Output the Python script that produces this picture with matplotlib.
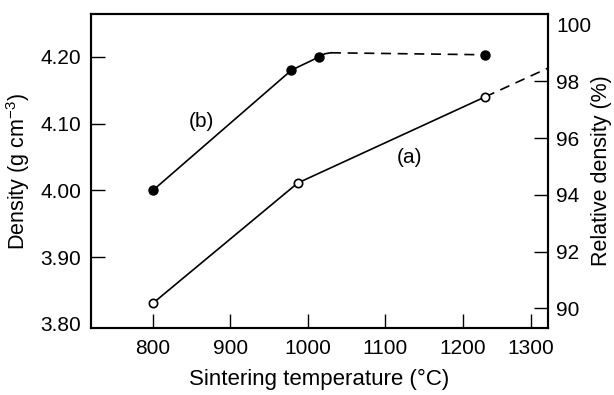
import matplotlib
matplotlib.use("Agg")
import matplotlib.pyplot as plt

plt.rcParams["font.family"] = ["Liberation Sans", "DejaVu Sans"]
plt.rcParams["mathtext.fontset"] = "custom"
plt.rcParams["mathtext.rm"] = "Liberation Sans"
plt.rcParams["mathtext.it"] = "Liberation Sans:italic"

# curve (b): filled points, solid rise, short shoulder, dashed plateau
temp_b = [800, 979, 1015, 1229]
dens_b = [4.000, 4.180, 4.200, 4.203]
shoulder_t = [1015, 1022, 1030]
shoulder_d = [4.200, 4.2045, 4.206]
plateau_t = [1030, 1229]
plateau_d = [4.206, 4.203]

# curve (a): open points, solid line, dashed extrapolation to the frame
temp_a = [800, 987, 1229]
dens_a = [3.831, 4.011, 4.140]
extrap_t = [1229, 1310]
extrap_d = [4.140, 4.183]

x_ticks = [800, 900, 1000, 1100, 1200, 1288]   # 1300 is drawn a bit short in the original
x_labels = ["800", "900", "1000", "1100", "1200", "1300"]
y_ticks = [3.80, 3.90, 4.00, 4.10, 4.20]
y_labels = ["3.80", "3.90", "4.00", "4.10", "4.20"]
rel_ticks = [90, 92, 94, 96, 98, 100]

fig = plt.figure(figsize=(6.14, 3.95), dpi=100)
ax = fig.add_axes([0.148, 0.1696, 0.7443, 0.7949])
ax2 = ax.twinx()

lw = 1.2
ax.plot(temp_b[:3], dens_b[:3], color="black", lw=lw)
ax.plot(shoulder_t, shoulder_d, color="black", lw=lw)
ax.plot(plateau_t, plateau_d, color="black", lw=lw, ls=(0, (6, 4)))
ax.plot(temp_b, dens_b, ls="none", marker="o", ms=6.5, mfc="black", mec="black")

ax.plot(temp_a, dens_a, color="black", lw=lw)
ax.plot(extrap_t, extrap_d, color="black", lw=lw, ls=(0, (6, 4)))
ax.plot(temp_a, dens_a, ls="none", marker="o", ms=6, mfc="white", mec="black", mew=1.2,
        zorder=3)

ax.text(863, 4.103, "(b)", fontsize=15, ha="center", va="center")
ax.text(1132, 4.049, "(a)", fontsize=15, ha="center", va="center")

ax.set_xlim(720, 1310)
ax.set_ylim(3.794, 4.264)
ax.set_xticks(x_ticks)
ax.set_xticklabels(x_labels)
ax.set_yticks(y_ticks)
ax.set_yticklabels(y_labels)
ax.tick_params(direction="in", length=10, width=1, labelsize=15)
ax.tick_params(axis="x", pad=8)
ax.tick_params(axis="y", pad=7)
ax.yaxis.get_major_ticks()[0].tick1line.set_visible(False)   # 3.80 sits on the frame

ax2.set_ylim(89.31, 100.37)
ax2.set_yticks(rel_ticks)
ax2.set_yticklabels([str(t) for t in rel_ticks])
ax2.tick_params(direction="in", length=10, width=1, labelsize=15, pad=6)
ax2.yaxis.get_major_ticks()[-1].tick2line.set_visible(False)

for a in (ax, ax2):
    for s in a.spines.values():
        s.set_linewidth(1.5)

ax.set_xlabel("Sintering temperature (°C)", fontsize=16, labelpad=8)
ax.set_ylabel("Density (g cm$^{-3}$)", fontsize=15.5, labelpad=6)
ax2.set_ylabel("Relative density (%)", fontsize=15.5, labelpad=0)

fig.savefig("out.png", dpi=100)
